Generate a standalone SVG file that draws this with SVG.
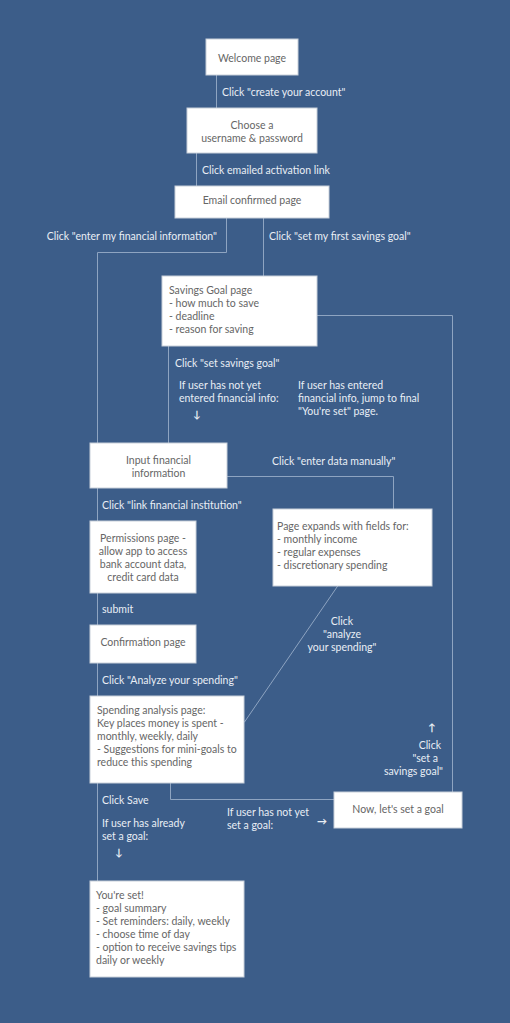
<svg xmlns="http://www.w3.org/2000/svg" width="510" height="1023" viewBox="0 0 510 1023">
<style>
text{font-family:Lato,"Liberation Sans",sans-serif;font-size:10.5px;}
.n rect{fill:#fff;stroke:#c8d0da;stroke-width:1}
.n text{fill:#666}
.c{fill:#e9eef5}
.a{font-weight:bold;font-size:10px}
.l{fill:none;stroke:#8ea4c1;stroke-width:1}
.m{text-anchor:middle}
.e{text-anchor:end}
</style>
<rect width="510" height="1023" fill="#3c5d89"/>
<g id="connectors">
<path class="l" d="M216.5 75V108"/>
<path class="l" d="M196.5 153V186"/>
<path class="l" d="M226.5 218V252.5H97.5V881"/>
<path class="l" d="M263.5 218V276"/>
<path class="l" d="M317 315.5H452.5V792"/>
<path class="l" d="M168.5 346V443"/>
<path class="l" d="M227 476.5H393.5V509"/>
<path class="l" d="M337.7 586L244.3 722.3"/>
<path class="l" d="M170.5 783V799.5H334"/>
</g>
<g id="labels">
<text class="c" x="222" y="96">Click "create your account"</text>
<text class="c" x="202" y="174">Click emailed activation link</text>
<text class="c e" x="217" y="240">Click "enter my financial information"</text>
<text class="c" x="269" y="240">Click "set my first savings goal"</text>
<text class="c" x="175" y="367">Click "set savings goal"</text>
<text class="c" x="179" y="389">If user has not yet</text>
<text class="c" x="179" y="402">entered financial info:</text>
<text class="c m a" x="197" y="418">↓</text>
<text class="c" x="298" y="389">If user has entered</text>
<text class="c" x="298" y="402">financial info, jump to final</text>
<text class="c" x="298" y="415">"You're set" page.</text>
<text class="c" x="272" y="465">Click "enter data manually"</text>
<text class="c" x="102" y="509">Click "link financial institution"</text>
<text class="c" x="102" y="613">submit</text>
<text class="c" x="102" y="684">Click "Analyze your spending"</text>
<text class="c m" x="342" y="625">Click</text>
<text class="c m" x="342" y="638">"analyze</text>
<text class="c m" x="342" y="651">your spending"</text>
<text class="c m a" x="432" y="731">↑</text>
<text class="c e" x="441" y="749">Click</text>
<text class="c e" x="438" y="762">"set a</text>
<text class="c e" x="443" y="775">savings goal"</text>
<text class="c" x="102" y="804">Click Save</text>
<text class="c" x="102" y="827">If user has already</text>
<text class="c" x="102" y="840">set a goal:</text>
<text class="c m a" x="119" y="856">↓</text>
<text class="c" x="227" y="816">If user has not yet</text>
<text class="c" x="227" y="829">set a goal:</text>
<text class="c m a" x="322" y="825">→</text>
</g>
<g id="welcome" class="n"><rect x="206" y="39" width="92" height="36"/><text class="m" x="252" y="62">Welcome page</text></g>
<g id="choose" class="n"><rect x="187" y="108" width="130" height="45"/><text class="m" x="252" y="129">Choose a</text><text class="m" x="252" y="142">username &amp; password</text></g>
<g id="email" class="n"><rect x="175" y="186" width="154" height="32"/><text class="m" x="252" y="204">Email confirmed page</text></g>
<g id="savings" class="n"><rect x="162" y="276" width="155" height="70"/><text x="169" y="294">Savings Goal page</text><text x="169" y="307">- how much to save</text><text x="169" y="320">- deadline</text><text x="169" y="333">- reason for saving</text></g>
<g id="input" class="n"><rect x="90" y="443" width="137" height="45"/><text class="m" x="158.5" y="464">Input financial</text><text class="m" x="158.5" y="477">information</text></g>
<g id="expands" class="n"><rect x="273" y="509" width="159" height="77"/><text x="277" y="530">Page expands with fields for:</text><text x="277" y="543">- monthly income</text><text x="277" y="556">- regular expenses</text><text x="277" y="569">- discretionary spending</text></g>
<g id="permissions" class="n"><rect x="90" y="521" width="106" height="72"/><text class="m" x="143" y="542">Permissions page -</text><text class="m" x="143" y="555">allow app to access</text><text class="m" x="143" y="568">bank account data,</text><text class="m" x="143" y="581">credit card data</text></g>
<g id="confirmation" class="n"><rect x="90" y="625" width="106" height="38"/><text class="m" x="143" y="646">Confirmation page</text></g>
<g id="spending" class="n"><rect x="90" y="696" width="154" height="87"/><text x="97" y="714">Spending analysis page:</text><text x="97" y="727">Key places money is spent -</text><text x="97" y="740">monthly, weekly, daily</text><text x="97" y="753">- Suggestions for mini-goals to</text><text x="97" y="766">reduce this spending</text></g>
<g id="now" class="n"><rect x="334" y="792" width="128" height="36"/><text class="m" x="398" y="813">Now, let's set a goal</text></g>
<g id="set" class="n"><rect x="90" y="881" width="154" height="96"/><text x="96" y="899">You're set!</text><text x="96" y="912">- goal summary</text><text x="96" y="925">- Set reminders: daily, weekly</text><text x="96" y="938">- choose time of day</text><text x="96" y="951">- option to receive savings tips</text><text x="96" y="964">daily or weekly</text></g>
</svg>
